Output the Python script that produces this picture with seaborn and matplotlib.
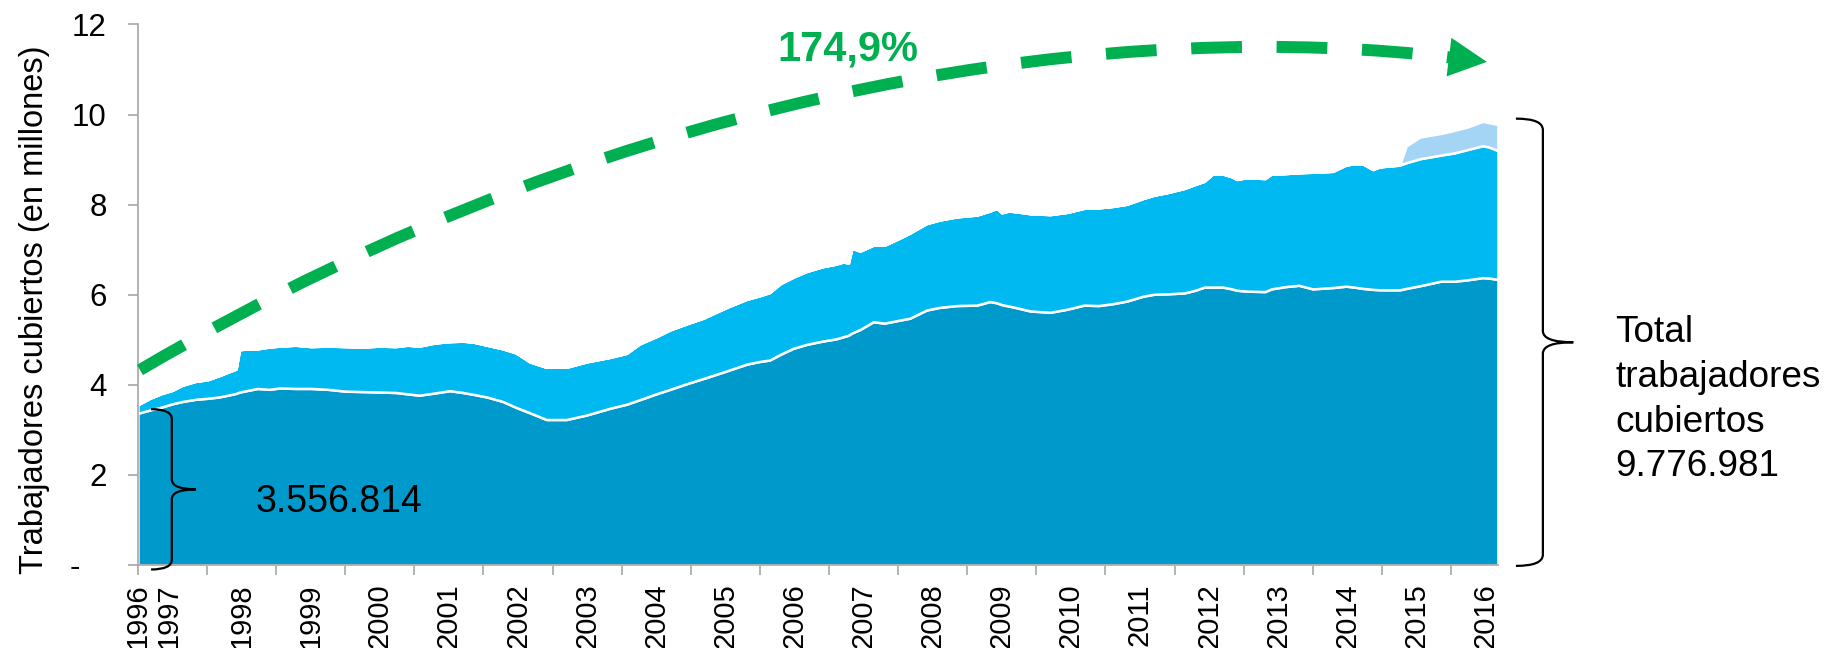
import numpy as np
import pandas as pd
import seaborn as sns
import matplotlib
matplotlib.use("Agg")
import matplotlib.pyplot as plt
from matplotlib.path import Path
from matplotlib.patches import PathPatch, FancyArrowPatch

# ---------------- data (millions of covered workers) ----------------
years = [1997.00, 1997.17, 1997.35, 1997.50, 1997.64, 1997.84, 1998.00, 1998.17, 1998.30, 1998.42,
         1998.47, 1998.60, 1998.73, 1998.90, 1999.05, 1999.28, 1999.50, 1999.75, 2000.00, 2000.25,
         2000.50, 2000.73, 2000.90, 2001.07, 2001.30, 2001.51, 2001.70, 2001.85, 2002.05, 2002.28,
         2002.47, 2002.67, 2002.91, 2003.20, 2003.49, 2003.83, 2004.07, 2004.26, 2004.50, 2004.70,
         2004.95, 2005.18, 2005.52, 2005.81, 2006.00, 2006.14, 2006.30, 2006.48, 2006.68, 2006.90,
         2007.10, 2007.21, 2007.28, 2007.33, 2007.45, 2007.64, 2007.80, 2008.00, 2008.17, 2008.41,
         2008.60, 2008.85, 2009.14, 2009.33, 2009.43, 2009.50, 2009.60, 2009.72, 2009.91, 2010.20,
         2010.45, 2010.69, 2010.90, 2011.10, 2011.31, 2011.55, 2011.70, 2011.90, 2012.14, 2012.30,
         2012.43, 2012.55, 2012.70, 2012.83, 2012.90, 2013.05, 2013.31, 2013.40, 2013.60, 2013.80,
         2014.00, 2014.29, 2014.48, 2014.60, 2014.73, 2014.87, 2014.97, 2015.26, 2015.35, 2015.55,
         2015.85, 2016.05, 2016.23, 2016.46, 2016.55, 2016.68]

capa_inferior = [3.37, 3.44, 3.51, 3.58, 3.63, 3.68, 3.70, 3.73, 3.77, 3.81,
                 3.84, 3.88, 3.92, 3.90, 3.93, 3.92, 3.92, 3.90, 3.86, 3.85,
                 3.84, 3.83, 3.80, 3.77, 3.82, 3.87, 3.83, 3.79, 3.73, 3.63,
                 3.50, 3.38, 3.23, 3.23, 3.33, 3.48, 3.57, 3.67, 3.80, 3.90,
                 4.03, 4.14, 4.31, 4.46, 4.52, 4.55, 4.68, 4.81, 4.90, 4.97,
                 5.02, 5.07, 5.10, 5.15, 5.23, 5.40, 5.37, 5.43, 5.48, 5.66,
                 5.72, 5.76, 5.77, 5.85, 5.82, 5.78, 5.75, 5.71, 5.64, 5.61,
                 5.68, 5.77, 5.76, 5.80, 5.86, 5.97, 6.01, 6.02, 6.04, 6.10,
                 6.17, 6.17, 6.17, 6.13, 6.10, 6.08, 6.07, 6.13, 6.18, 6.21,
                 6.13, 6.16, 6.19, 6.17, 6.14, 6.12, 6.11, 6.11, 6.14, 6.20,
                 6.30, 6.30, 6.33, 6.38, 6.37, 6.34]

capa_media = [0.19, 0.26, 0.30, 0.30, 0.36, 0.40, 0.41, 0.47, 0.51, 0.54,
              0.94, 0.92, 0.88, 0.94, 0.93, 0.96, 0.93, 0.96, 0.99, 0.99,
              1.02, 1.02, 1.08, 1.09, 1.11, 1.09, 1.14, 1.16, 1.15, 1.17,
              1.21, 1.13, 1.16, 1.16, 1.18, 1.13, 1.13, 1.24, 1.27, 1.32,
              1.33, 1.34, 1.41, 1.44, 1.46, 1.50, 1.57, 1.58, 1.62, 1.65,
              1.66, 1.66, 1.60, 1.88, 1.74, 1.70, 1.73, 1.81, 1.89, 1.92,
              1.94, 1.97, 2.00, 2.01, 2.10, 2.04, 2.11, 2.13, 2.16, 2.17,
              2.15, 2.15, 2.17, 2.16, 2.15, 2.17, 2.20, 2.25, 2.32, 2.35,
              2.35, 2.51, 2.51, 2.49, 2.46, 2.52, 2.51, 2.55, 2.51, 2.50,
              2.59, 2.58, 2.69, 2.74, 2.76, 2.66, 2.73, 2.77, 2.79, 2.82,
              2.80, 2.85, 2.89, 2.93, 2.91, 2.86]

capa_superior = [0.0] * 97 + [0.00, 0.37, 0.48, 0.48, 0.50, 0.50, 0.54, 0.54, 0.58]

x_tick_labels = ['1996', '1997', '1998', '1999', '2000', '2001', '2002', '2003', '2004', '2005',
                 '2006', '2007', '2008', '2009', '2010', '2011', '2012', '2013', '2014', '2015', '2016']
x_label_pos = [1997.0, 1997.45, 1998.5, 1999.5, 2000.5, 2001.5, 2002.5, 2003.5, 2004.5, 2005.5,
               2006.5, 2007.5, 2008.5, 2009.5, 2010.5, 2011.5, 2012.5, 2013.5, 2014.5, 2015.5, 2016.5]
x_year_ticks = list(range(1997, 2017))
y_ticks = [0, 2, 4, 6, 8, 10, 12]
y_tick_labels = ['-   ', '2', '4', '6', '8', '10', '12']

ylabel_text = 'Trabajadores cubiertos (en millones)'
start_label = '3.556.814'
end_label = 'Total\ntrabajadores\ncubiertos\n9.776.981'
growth_label = '174,9%'

# ---------------- style ----------------
sns.set_theme(style='white')
plt.rcParams['font.family'] = ['Liberation Sans', 'DejaVu Sans']

col_dark = '#0099CB'
col_mid = '#00B9F1'
col_light = '#A4D5F5'
col_green = '#00B050'
col_axis = '#A6A6A6'

fig = plt.figure(figsize=(18.27, 6.48), dpi=100)
ax = fig.add_axes([0.0755, 0.1281, 0.7444, 0.8341])

df = pd.DataFrame({'year': years, 'inferior': capa_inferior,
                   'media': capa_media, 'superior': capa_superior})

ax.stackplot(df['year'], df['inferior'], df['media'], df['superior'],
             colors=[col_dark, col_mid, col_light], edgecolor='white', linewidth=1.8)

ax.set_xlim(1997.0, 2016.68)
ax.set_ylim(0, 12)

sns.despine(ax=ax)
for s in ['left', 'bottom']:
    ax.spines[s].set_color(col_axis)
    ax.spines[s].set_linewidth(1.2)

ax.set_xticks(x_year_ticks, minor=True)
ax.xaxis.remove_overlapping_locs = False
ax.set_xticks(x_label_pos, x_tick_labels, rotation=90)
ax.tick_params(axis='x', which='major', bottom=True, length=0, pad=13, labelsize=21,
               labelcolor='black')
ax.tick_params(axis='x', which='minor', bottom=True, length=7, width=1.2, color=col_axis)

ax.set_yticks(y_ticks, y_tick_labels)
ax.tick_params(axis='y', which='major', left=True, length=7, width=1.2, color=col_axis,
               pad=15.5, labelsize=22.5, labelcolor='black')

ax.set_ylabel(ylabel_text, fontsize=23.5, color='black', va='center')
ax.yaxis.set_label_coords(-0.0757, 0.472)

# ---------------- annotations ----------------
ax.text(1998.70, 1.18, start_label, fontsize=27, color='black', ha='left', va='baseline')
ax.text(2018.38, 1.97, end_label, fontsize=26.6, color='black', ha='left', va='baseline',
        linespacing=1.36)
ax.text(2007.28, 11.21, growth_label, fontsize=30, fontweight='bold', color=col_green,
        ha='center', va='baseline')


def brace(ax, x_hook, x_spine, x_tip, y_top, y_bot, r):
    y_mid = (y_top + y_bot) / 2
    verts = [(x_hook, y_top), (x_spine, y_top), (x_spine, y_top - r),
             (x_spine, y_mid + r),
             (x_spine, y_mid), (x_tip, y_mid),
             (x_spine, y_mid), (x_spine, y_mid - r),
             (x_spine, y_bot + r),
             (x_spine, y_bot), (x_hook, y_bot)]
    codes = [Path.MOVETO, Path.CURVE3, Path.CURVE3, Path.LINETO,
             Path.CURVE3, Path.CURVE3, Path.CURVE3, Path.CURVE3,
             Path.LINETO, Path.CURVE3, Path.CURVE3]
    ax.add_patch(PathPatch(Path(verts, codes), fill=False, edgecolor='black',
                           linewidth=1.6, clip_on=False, zorder=5))


brace(ax, 1997.19, 1997.49, 1997.84, 3.46, -0.10, 0.22)
brace(ax, 2016.94, 2017.33, 2017.77, 9.91, -0.02, 0.25)

# green dashed growth arrow
arrow_verts = [(1997.03, 4.33), (2004.3, 10.9), (2011.45, 12.12), (2016.03, 11.26)]
arrow_path = Path(arrow_verts, [Path.MOVETO, Path.CURVE4, Path.CURVE4, Path.CURVE4])
ax.add_patch(PathPatch(arrow_path, fill=False, edgecolor=col_green, linewidth=8.6,
                       linestyle=(0, (4.25, 2.9)), capstyle='butt', clip_on=False, zorder=6))
head = FancyArrowPatch(posA=(2016.0, 11.27), posB=(2016.52, 11.17),
                       arrowstyle='-|>,head_length=0.55,head_width=0.28', mutation_scale=50,
                       facecolor=col_green, edgecolor=col_green, linewidth=0,
                       shrinkA=0, shrinkB=0, clip_on=False, zorder=6)
ax.add_patch(head)

fig.savefig('out.png', dpi=100)
